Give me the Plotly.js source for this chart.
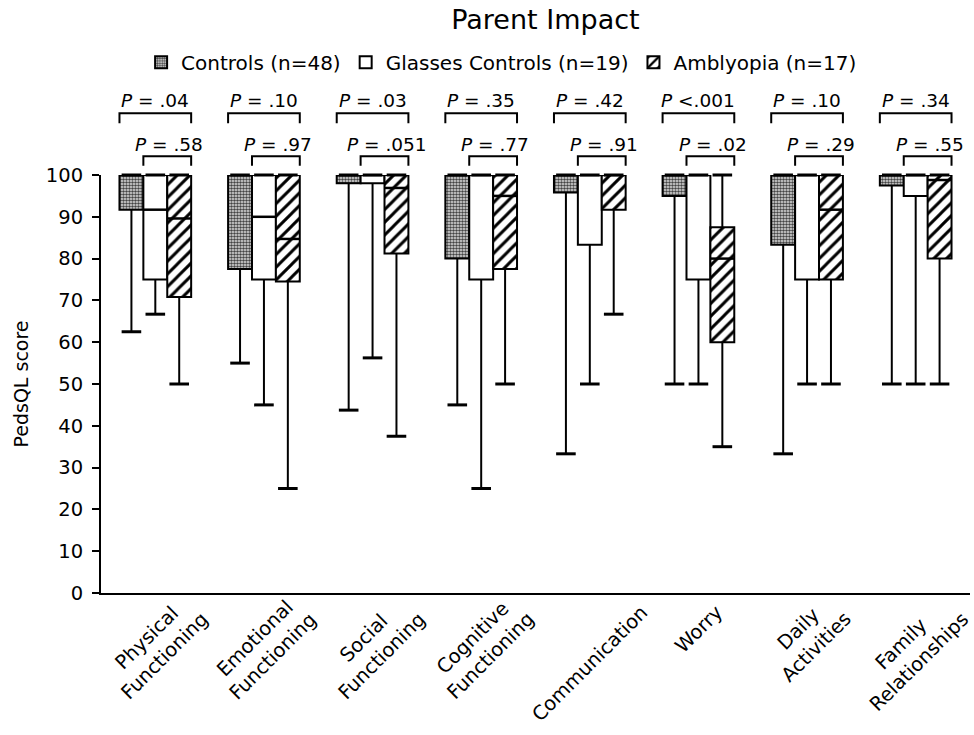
<!DOCTYPE html>
<html><head><meta charset="utf-8">
<script src="https://cdn.plot.ly/plotly-3.0.1.min.js"></script>
<style>html,body{margin:0;padding:0;background:#fff}</style>
</head><body><div id="chart" style="width:974px;height:735px"></div>
<script>
// ---------- data ----------
const categories = ["Physical<br>Functioning","Emotional<br>Functioning","Social<br>Functioning","Cognitive<br>Functioning","Communication","Worry","Daily<br>Activities","Family<br>Relationships"];
const groupNames = ["Controls (n=48)","Glasses Controls (n=19)","Amblyopia (n=17)"];

const controlsMin    = [62.5, 55, 43.75, 45, 33.3, 50, 33.3, 50];
const controlsQ1     = [91.7, 77.5, 98, 80, 95.8, 95, 83.3, 97.5];
const controlsMedian = [100, 100, 100, 100, 100, 100, 100, 100];
const controlsQ3     = [100, 100, 100, 100, 100, 100, 100, 100];
const controlsMax    = [100, 100, 100, 100, 100, 100, 100, 100];

const glassesMin    = [66.7, 45, 56.25, 25, 50, 50, 50, 50];
const glassesQ1     = [75, 75, 98, 75, 83.3, 75, 75, 95];
const glassesMedian = [91.7, 90, 100, 100, 100, 100, 100, 100];
const glassesQ3     = [100, 100, 100, 100, 100, 100, 100, 100];
const glassesMax    = [100, 100, 100, 100, 100, 100, 100, 100];

const amblyopiaMin    = [50, 25, 37.5, 50, 66.7, 35, 50, 50];
const amblyopiaQ1     = [70.8, 74.5, 81.25, 77.5, 91.7, 60, 75, 80];
const amblyopiaMedian = [89.6, 84.7, 96.9, 95, 100, 80, 91.7, 98.8];
const amblyopiaQ3     = [100, 100, 100, 100, 100, 87.5, 100, 100];
const amblyopiaMax    = [100, 100, 100, 100, 100, 100, 100, 100];

const pControlsVsAmblyopia = [".04", ".10", ".03", ".35", ".42", "<.001", ".10", ".34"];
const pGlassesVsAmblyopia  = [".58", ".97", ".051", ".77", ".91", ".02", ".29", ".55"];

// ---------- build ----------
const FONT = "DejaVu Sans, Verdana, sans-serif";
const groups = [
  {name: groupNames[0], min: controlsMin, q1: controlsQ1, med: controlsMedian, q3: controlsQ3, max: controlsMax,
   pattern: {shape: ".", fgcolor: "#444", bgcolor: "#e4e4e4", size: 3, solidity: 0.55}},
  {name: groupNames[1], min: glassesMin, q1: glassesQ1, med: glassesMedian, q3: glassesQ3, max: glassesMax,
   pattern: {shape: "", bgcolor: "#ffffff"}},
  {name: groupNames[2], min: amblyopiaMin, q1: amblyopiaQ1, med: amblyopiaMedian, q3: amblyopiaQ3, max: amblyopiaMax,
   pattern: {shape: "/", fgcolor: "#000", bgcolor: "#ffffff", size: 9, solidity: 0.33}}
];
const boxW = 0.22;
const xs = categories.map((c, i) => i);
const traces = [];

groups.forEach((g, k) => {
  const off = (k - 1) * boxW;
  const gx = xs.map(x => x + off);
  // whiskers
  const wx = [], wy = [];
  gx.forEach((x, i) => {
    wx.push(x, x, null, x, x, null);
    wy.push(g.q1[i], g.min[i], null, g.q3[i], g.max[i], null);
  });
  traces.push({type: "scatter", mode: "lines", x: wx, y: wy, showlegend: false, hoverinfo: "skip",
    line: {color: "#000", width: 2}, cliponaxis: false});
  // boxes
  traces.push({type: "bar", name: g.name, x: xs, base: g.q1, y: g.q3.map((v, i) => v - g.q1[i]),
    width: boxW, offset: off - boxW / 2, cliponaxis: false,
    marker: {color: "#fff", line: {color: "#000", width: 2}, pattern: g.pattern}});
  // medians
  const mx = [], my = [];
  gx.forEach((x, i) => { mx.push(x - boxW / 2, x + boxW / 2, null); my.push(g.med[i], g.med[i], null); });
  traces.push({type: "scatter", mode: "lines", x: mx, y: my, showlegend: false, hoverinfo: "skip", cliponaxis: false,
    line: {color: "#000", width: 2.5}});
  // caps
  traces.push({type: "scatter", mode: "markers", x: gx.concat(gx), y: g.min.concat(g.max), showlegend: false, hoverinfo: "skip", cliponaxis: false,
    marker: {symbol: "line-ew", size: 14, color: "#000", line: {color: "#000", width: 3}}});
});

const shapes = [], annotations = [];
const pText = t => "<i>P</i> " + (t[0] === "<" ? "<" + t.slice(1) : "= " + t);
xs.forEach((x, i) => {
  shapes.push({type: "path", xref: "x", yref: "paper", line: {color: "#000", width: 2},
    path: `M${x - 0.33},1.124 L${x - 0.33},1.148 L${x + 0.33},1.148 L${x + 0.33},1.124`});
  shapes.push({type: "path", xref: "x", yref: "paper", line: {color: "#000", width: 2},
    path: `M${x - 0.11},1.022 L${x - 0.11},1.045 L${x + 0.33},1.045 L${x + 0.33},1.022`});
  annotations.push({xref: "x", yref: "paper", x: x, y: 1.179, showarrow: false, yanchor: "middle",
    text: pText(pControlsVsAmblyopia[i]), font: {family: FONT, size: 18.5, color: "#000"}});
  annotations.push({xref: "x", yref: "paper", x: x + 0.13, y: 1.072, showarrow: false, yanchor: "middle",
    text: pText(pGlassesVsAmblyopia[i]), font: {family: FONT, size: 18.5, color: "#000"}});
  // category labels (rotated, centred under each group)
  const multi = categories[i].indexOf("<br>") >= 0;
  annotations.push({xref: "x", yref: "paper", x: x, y: 0, yshift: multi ? 6 : -5,
    xshift: i === categories.length - 1 ? -6 : 0, xanchor: "center", yanchor: "top",
    textangle: -45, align: "center", showarrow: false, text: categories[i],
    font: {family: FONT, size: 19.5, color: "#000"}});
});

const layout = {
  width: 974, height: 735,
  margin: {l: 101, r: 4, t: 175, b: 142},
  paper_bgcolor: "#fff", plot_bgcolor: "#fff",
  barmode: "overlay",
  title: {text: "Parent Impact", x: 0.56, xanchor: "center", y: 0.973, yanchor: "middle",
    font: {family: FONT, size: 27, color: "#000"}},
  showlegend: true,
  legend: {orientation: "h", x: 0.461, xanchor: "center", y: 1.27, yanchor: "middle",
    font: {family: FONT, size: 20, color: "#000"}, traceorder: "normal"},
  xaxis: {range: [-0.5, 7.5], tickvals: xs, showticklabels: false,
    showline: true, linewidth: 2, linecolor: "#000", ticks: "", showgrid: false, zeroline: false},
  yaxis: {range: [0, 100], tickvals: [0,10,20,30,40,50,60,70,80,90,100],
    showline: true, linewidth: 2, linecolor: "#000", ticks: "outside", ticklen: 7, tickwidth: 2, tickcolor: "#000",
    showgrid: false, zeroline: false, ticklabelstandoff: 5,
    tickfont: {family: FONT, size: 19.5, color: "#000"},
    title: {text: "PedsQL score", font: {family: FONT, size: 19, color: "#000"}, standoff: 12}},
  shapes: shapes,
  annotations: annotations
};

Plotly.newPlot("chart", traces, layout, {staticPlot: true});
</script>
</body></html>
